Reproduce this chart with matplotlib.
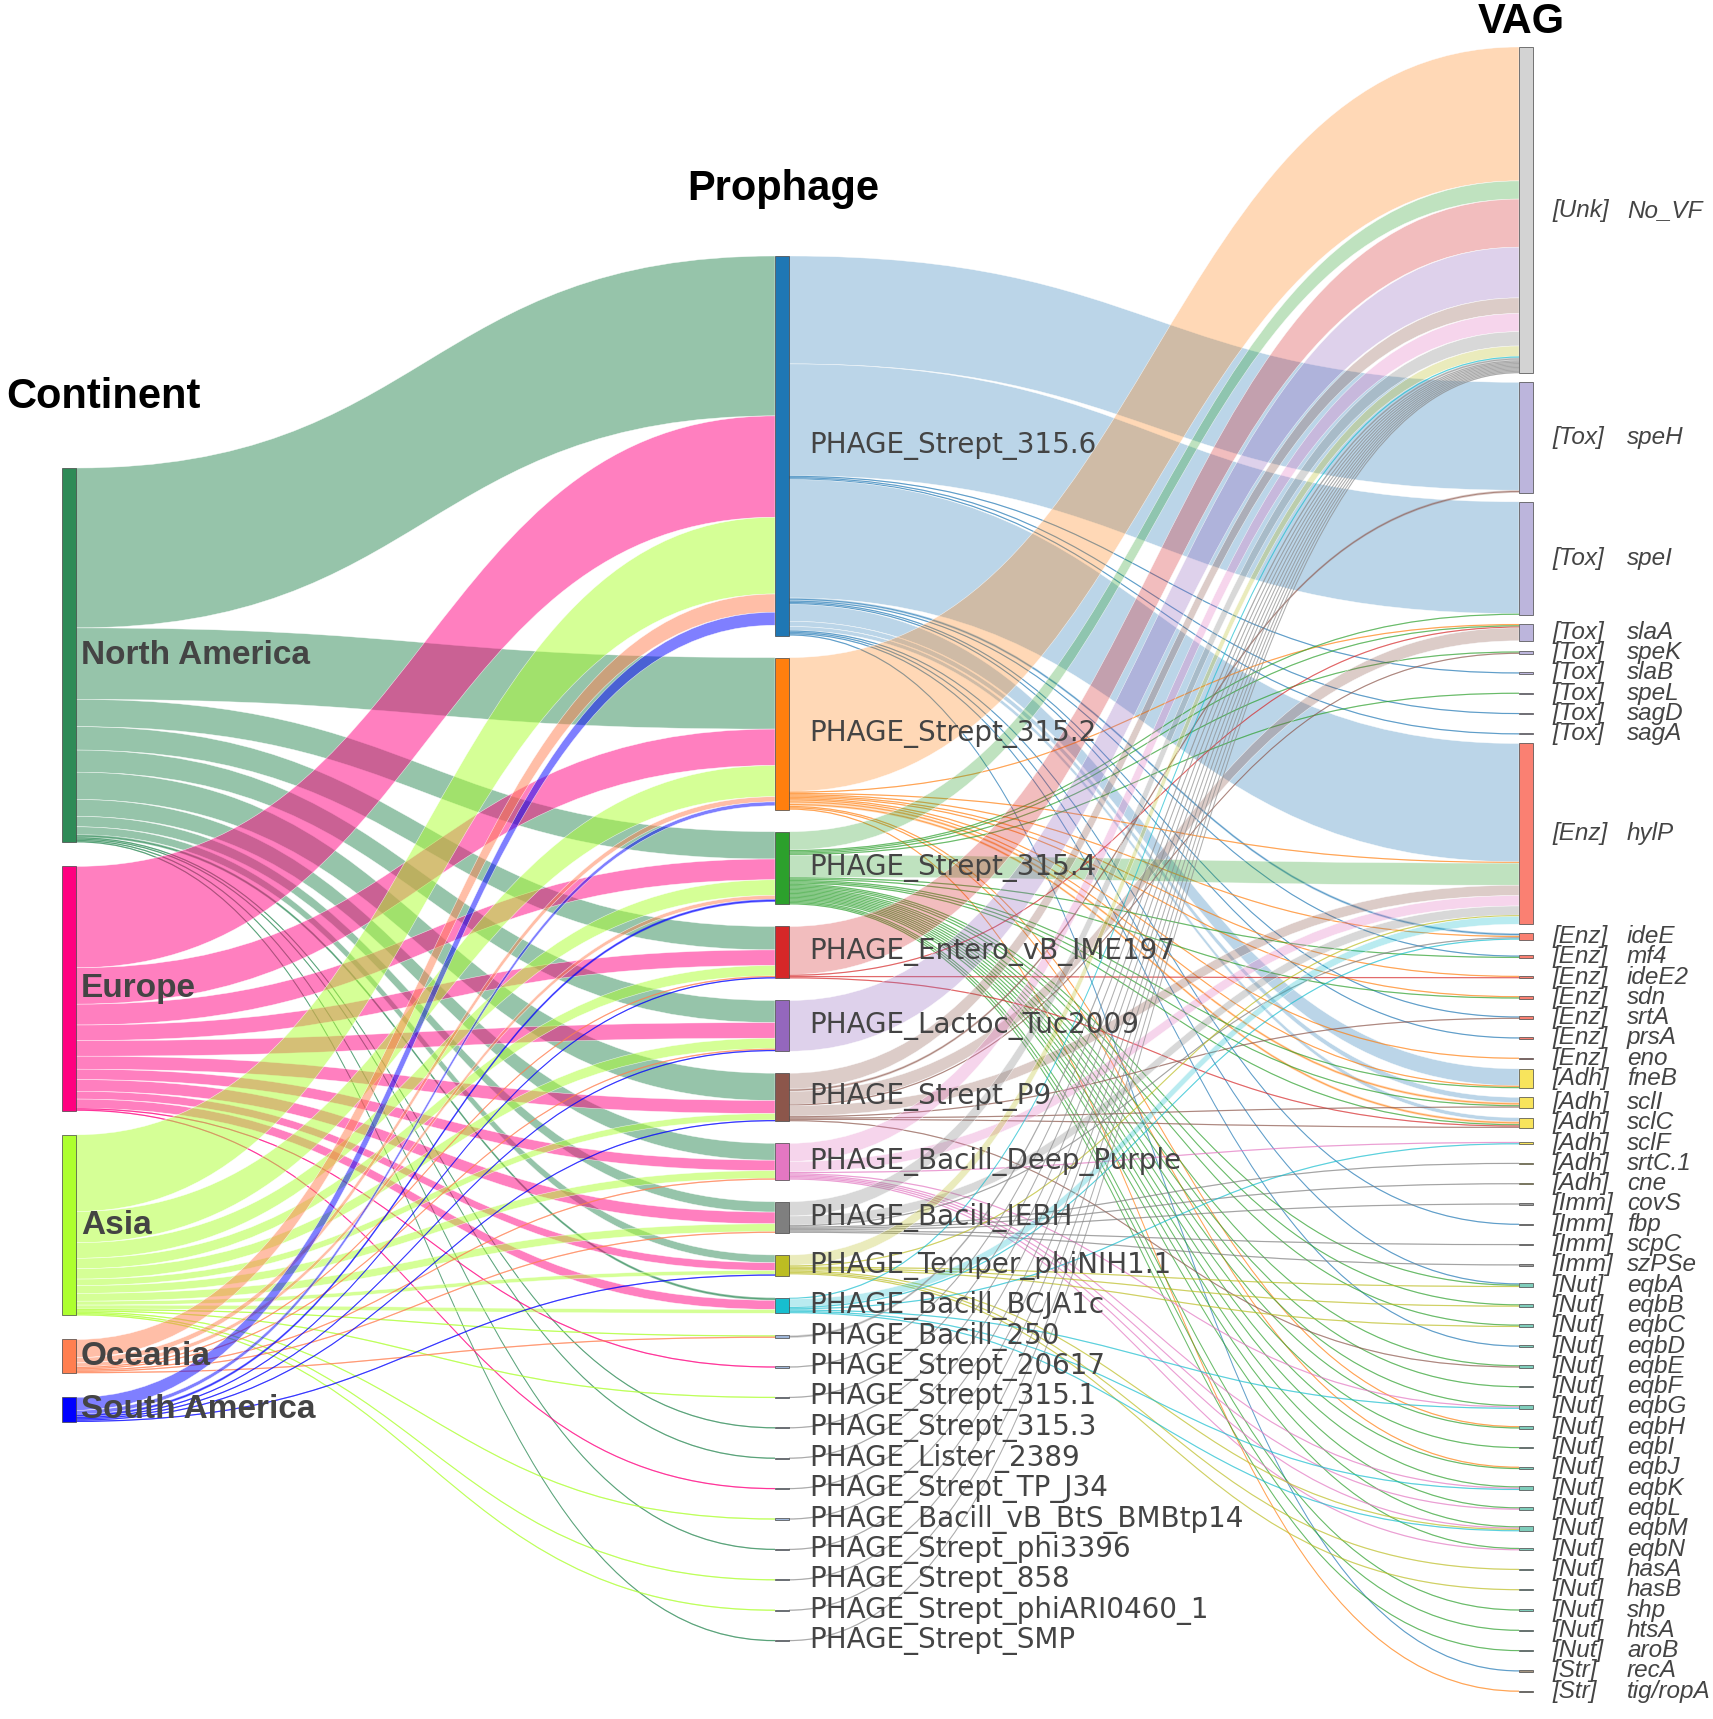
import numpy as np
import matplotlib.pyplot as plt
from matplotlib.path import Path
from matplotlib.patches import PathPatch, Rectangle
from matplotlib.colors import to_rgba

# ---- data (values ~ genome counts) ----
continents = ['North America', 'Europe', 'Asia', 'Oceania', 'South America']
continent_colors = ['#2e8b57', '#ff0080', '#adff2f', '#ff7f50', '#0000ff']

prophages = ['PHAGE_Strept_315.6', 'PHAGE_Strept_315.2', 'PHAGE_Strept_315.4',
             'PHAGE_Entero_vB_IME197', 'PHAGE_Lactoc_Tuc2009', 'PHAGE_Strept_P9',
             'PHAGE_Bacill_Deep_Purple', 'PHAGE_Bacill_IEBH', 'PHAGE_Temper_phiNIH1.1',
             'PHAGE_Bacill_BCJA1c', 'PHAGE_Bacill_250', 'PHAGE_Strept_20617',
             'PHAGE_Strept_315.1', 'PHAGE_Strept_315.3', 'PHAGE_Lister_2389',
             'PHAGE_Strept_TP_J34', 'PHAGE_Bacill_vB_BtS_BMBtp14', 'PHAGE_Strept_phi3396',
             'PHAGE_Strept_858', 'PHAGE_Strept_phiARI0460_1', 'PHAGE_Strept_SMP']
prophage_colors = ['#1f77b4', '#ff7f0e', '#2ca02c', '#d62728', '#9467bd', '#8c564b',
                   '#e377c2', '#7f7f7f', '#bcbd22', '#17becf'] + ['#9db4d6'] * 11

# continent -> prophage (same order as prophages)
na_to_phage = [123, 55, 21, 18, 17, 21, 13, 8, 6, 2, 0, 0, 0, 1, 1, 0, 0, 1, 0, 0, 1]
eu_to_phage = [78, 28, 16, 12, 12, 10, 8, 9, 6, 7, 0, 1, 0, 0, 0, 1, 0, 0, 0, 0, 0]
asia_to_phage = [59, 24, 12, 8, 8, 5, 6, 6, 3, 3, 1, 0, 1, 0, 0, 0, 1, 0, 1, 1, 0]
oce_to_phage = [14, 4, 3, 1, 1, 0, 1, 1, 0, 0, 1, 0, 0, 0, 0, 0, 0, 0, 0, 0, 0]
sa_to_phage = [10, 3, 2, 1, 1, 1, 0, 0, 1, 0, 0, 0, 0, 0, 0, 0, 0, 0, 0, 0, 0]

vag_tags = (['[Unk]'] + ['[Tox]'] * 8 + ['[Enz]'] * 8 + ['[Adh]'] * 6 + ['[Imm]'] * 4
            + ['[Nut]'] * 19 + ['[Str]'] * 2)
vag_genes = ['No_VF',
             'speH', 'speI', 'slaA', 'speK', 'slaB', 'speL', 'sagD', 'sagA',
             'hylP', 'ideE', 'mf4', 'ideE2', 'sdn', 'srtA', 'prsA', 'eno',
             'fneB', 'sclI', 'sclC', 'sclF', 'srtC.1', 'cne',
             'covS', 'fbp', 'scpC', 'szPSe',
             'eqbA', 'eqbB', 'eqbC', 'eqbD', 'eqbE', 'eqbF', 'eqbG', 'eqbH', 'eqbI',
             'eqbJ', 'eqbK', 'eqbL', 'eqbM', 'eqbN', 'hasA', 'hasB', 'shp', 'htsA', 'aroB',
             'recA', 'tig/ropA']
tag_colors = {'[Unk]': '#d3d3d3', '[Tox]': '#bcb5dc', '[Enz]': '#fa8072', '[Adh]': '#f8e45c',
              '[Imm]': '#9a9a9a', '[Nut]': '#7fcdbb', '[Str]': '#a39480'}

# prophage -> VAG
p315_6 = {'speH': 83, 'speI': 86, 'slaB': 1, 'sagD': 1, 'sagA': 1, 'hylP': 91, 'ideE': 2,
          'mf4': 1, 'srtA': 1, 'prsA': 1, 'fneB': 13, 'sclI': 4, 'sclC': 3, 'fbp': 1,
          'eqbA': 1, 'eqbD': 1, 'recA': 1}
p315_2 = {'No_VF': 103, 'slaA': 1, 'hylP': 1, 'ideE': 1, 'ideE2': 1, 'sdn': 1, 'eno': 1,
          'fneB': 1, 'sclI': 2, 'sclC': 2, 'eqbH': 1, 'eqbJ': 1, 'tig/ropA': 1}
p315_4 = {'No_VF': 14, 'speI': 1, 'slaA': 1, 'speK': 1, 'speL': 1, 'hylP': 17, 'mf4': 1,
          'sdn': 1, 'fneB': 1, 'sclI': 1, 'sclC': 1, 'eqbA': 1, 'eqbB': 1, 'eqbC': 1,
          'eqbE': 1, 'eqbF': 1, 'eqbG': 1, 'eqbH': 1, 'eqbI': 1, 'eqbJ': 1, 'eqbK': 1,
          'eqbL': 1, 'eqbM': 1, 'eqbN': 1, 'shp': 1, 'htsA': 1, 'aroB': 1}
p_entero = {'No_VF': 37, 'slaA': 1, 'ideE2': 1, 'sclC': 1}
p_lactoc = {'No_VF': 39}
p_p9 = {'No_VF': 12, 'speH': 2, 'slaA': 10, 'speK': 1, 'hylP': 8, 'srtA': 1, 'sclI': 1,
        'sclC': 1, 'eqbE': 1}
p_deep = {'No_VF': 14, 'hylP': 8, 'sclF': 1, 'eqbG': 1, 'eqbK': 1, 'eqbL': 1, 'eqbM': 1,
          'eqbN': 1}
p_iebh = {'No_VF': 11, 'hylP': 7, 'ideE': 1, 'srtC.1': 1, 'cne': 1, 'covS': 1, 'scpC': 1,
          'szPSe': 1}
p_temper = {'No_VF': 8, 'hylP': 1, 'eqbA': 1, 'eqbB': 1, 'eqbC': 1, 'eqbM': 1, 'hasA': 1,
            'hasB': 1}
p_bcja1c = {'No_VF': 1, 'hylP': 6, 'ideE': 1, 'sclF': 1, 'eqbG': 1, 'eqbK': 1, 'eqbM': 1}
p_small = [{'No_VF': 2}] + [{'No_VF': 1}] * 10

phage_to_vag = [p315_6, p315_2, p315_4, p_entero, p_lactoc, p_p9, p_deep, p_iebh,
                p_temper, p_bcja1c] + p_small

# ---- layout ----
K = 1.3          # pixels per genome
NODE_W = 14
X_COLS = [62, 775, 1519]

cont_flows = np.array([na_to_phage, eu_to_phage, asia_to_phage, oce_to_phage, sa_to_phage],
                      dtype=float)
vag_flows = np.zeros((len(prophages), len(vag_genes)))
for i, d in enumerate(phage_to_vag):
    for g, v in d.items():
        vag_flows[i, vag_genes.index(g)] = v

size_c = cont_flows.sum(axis=1)
size_p = np.maximum(cont_flows.sum(axis=0), vag_flows.sum(axis=1))
size_v = vag_flows.sum(axis=0)


def stack(sizes, gap_min, spacing, top=None, center=None):
    h = sizes * K
    gaps = np.maximum(gap_min, spacing - (h[:-1] + h[1:]) / 2)
    y0 = np.concatenate([[0.0], np.cumsum(h[:-1] + gaps)])
    span = y0[-1] + h[-1]
    off = top if top is not None else center - span / 2
    return y0 + off, h


yc, hc = stack(size_c, 24, 0, center=945)
yp, hp = stack(size_p, 22, 30.4, top=256)
yv, hv = stack(size_v, 9, 20.3, top=47)

fig = plt.figure(figsize=(17.13, 17.19), dpi=100)
ax = fig.add_axes([0, 0, 1, 1])
ax.set_xlim(0, 1713)
ax.set_ylim(1719, 0)
ax.axis('off')


def draw_links(flows, ys, yt, x0, x1, colors):
    ns, nt = flows.shape
    out_off = np.zeros(ns)
    in_off = np.zeros(nt)
    src_start = {}
    for s in range(ns):
        for t in np.argsort(yt):
            if flows[s, t] > 0:
                src_start[(s, t)] = ys[s] + out_off[s]
                out_off[s] += flows[s, t] * K
    tgt_start = {}
    for t in range(nt):
        for s in np.argsort(ys):
            if flows[s, t] > 0:
                tgt_start[(s, t)] = yt[t] + in_off[t]
                in_off[t] += flows[s, t] * K
    xm = (x0 + x1) / 2
    for s in range(ns):
        for t in range(nt):
            v = flows[s, t]
            if v <= 0:
                continue
            h = v * K
            a, b = src_start[(s, t)], tgt_start[(s, t)]
            verts = [(x0, a), (xm, a), (xm, b), (x1, b), (x1, b + h), (xm, b + h),
                     (xm, a + h), (x0, a + h), (x0, a)]
            codes = [Path.MOVETO, Path.CURVE4, Path.CURVE4, Path.CURVE4, Path.LINETO,
                     Path.CURVE4, Path.CURVE4, Path.CURVE4, Path.CLOSEPOLY]
            col, alpha = colors[s]
            if v <= 2:
                ax.add_patch(PathPatch(Path(verts, codes), fc=to_rgba(col, alpha), ec='none',
                                       zorder=1))
                cv = [(x0, a + h / 2), (xm, a + h / 2), (xm, b + h / 2), (x1, b + h / 2)]
                ax.add_patch(PathPatch(Path(cv, [Path.MOVETO] + [Path.CURVE4] * 3),
                                       fc='none', ec=to_rgba(col, 0.6), lw=0.75, zorder=1))
            else:
                ax.add_patch(PathPatch(Path(verts, codes), fc=to_rgba(col, alpha),
                                       ec=(1, 1, 1, 0.8), lw=0.35, zorder=1))


draw_links(cont_flows, yc, yp, X_COLS[0] + NODE_W, X_COLS[1],
           [(c, 0.5) for c in continent_colors])
link_cols_p = [(c, 0.3) for c in prophage_colors[:10]] + [('#8c8c8c', 0.35)] * 11
draw_links(vag_flows, yp, yv, X_COLS[1] + NODE_W, X_COLS[2], link_cols_p)

# nodes
for y, h, c in zip(yc, hc, continent_colors):
    ax.add_patch(Rectangle((X_COLS[0], y), NODE_W, h, fc=c, ec='#444444', lw=0.5, zorder=3))
for y, h, c in zip(yp, hp, prophage_colors):
    ax.add_patch(Rectangle((X_COLS[1], y), NODE_W, h, fc=c, ec='#444444', lw=0.5, zorder=3))
for y, h, tg in zip(yv, hv, vag_tags):
    ax.add_patch(Rectangle((X_COLS[2], y), NODE_W, h, fc=tag_colors[tg], ec='#444444',
                           lw=0.5, zorder=3))

# labels
for y, h, name in zip(yc, hc, continents):
    ax.text(X_COLS[0] + NODE_W + 5, y + h / 2, name, fontsize=24, fontweight='bold',
            family='Liberation Sans', color='#444444', va='center', ha='left', zorder=4)
for y, h, name in zip(yp, hp, prophages):
    ax.text(X_COLS[1] + NODE_W + 20, y + h / 2, name, fontsize=20, family='DejaVu Sans',
            color='#444444', va='center', ha='left', zorder=4)
for y, h, tg, g in zip(yv, hv, vag_tags, vag_genes):
    ax.text(X_COLS[2] + NODE_W + 19, y + h / 2, tg, fontsize=17.5, style='italic',
            family='Liberation Sans', color='#444444', va='center', ha='left', zorder=4)
    ax.text(X_COLS[2] + NODE_W + 94, y + h / 2, g, fontsize=17.5, style='italic',
            family='Liberation Sans', color='#444444', va='center', ha='left', zorder=4)

# column titles
ax.text(6, 397, 'Continent', fontsize=30, fontweight='bold', family='Liberation Sans',
        va='center', ha='left')
ax.text(783, 189, 'Prophage', fontsize=30, fontweight='bold', family='Liberation Sans',
        va='center', ha='center')
ax.text(1521, 22, 'VAG', fontsize=30, fontweight='bold', family='Liberation Sans',
        va='center', ha='center')

fig.savefig('out.png', dpi=100)
